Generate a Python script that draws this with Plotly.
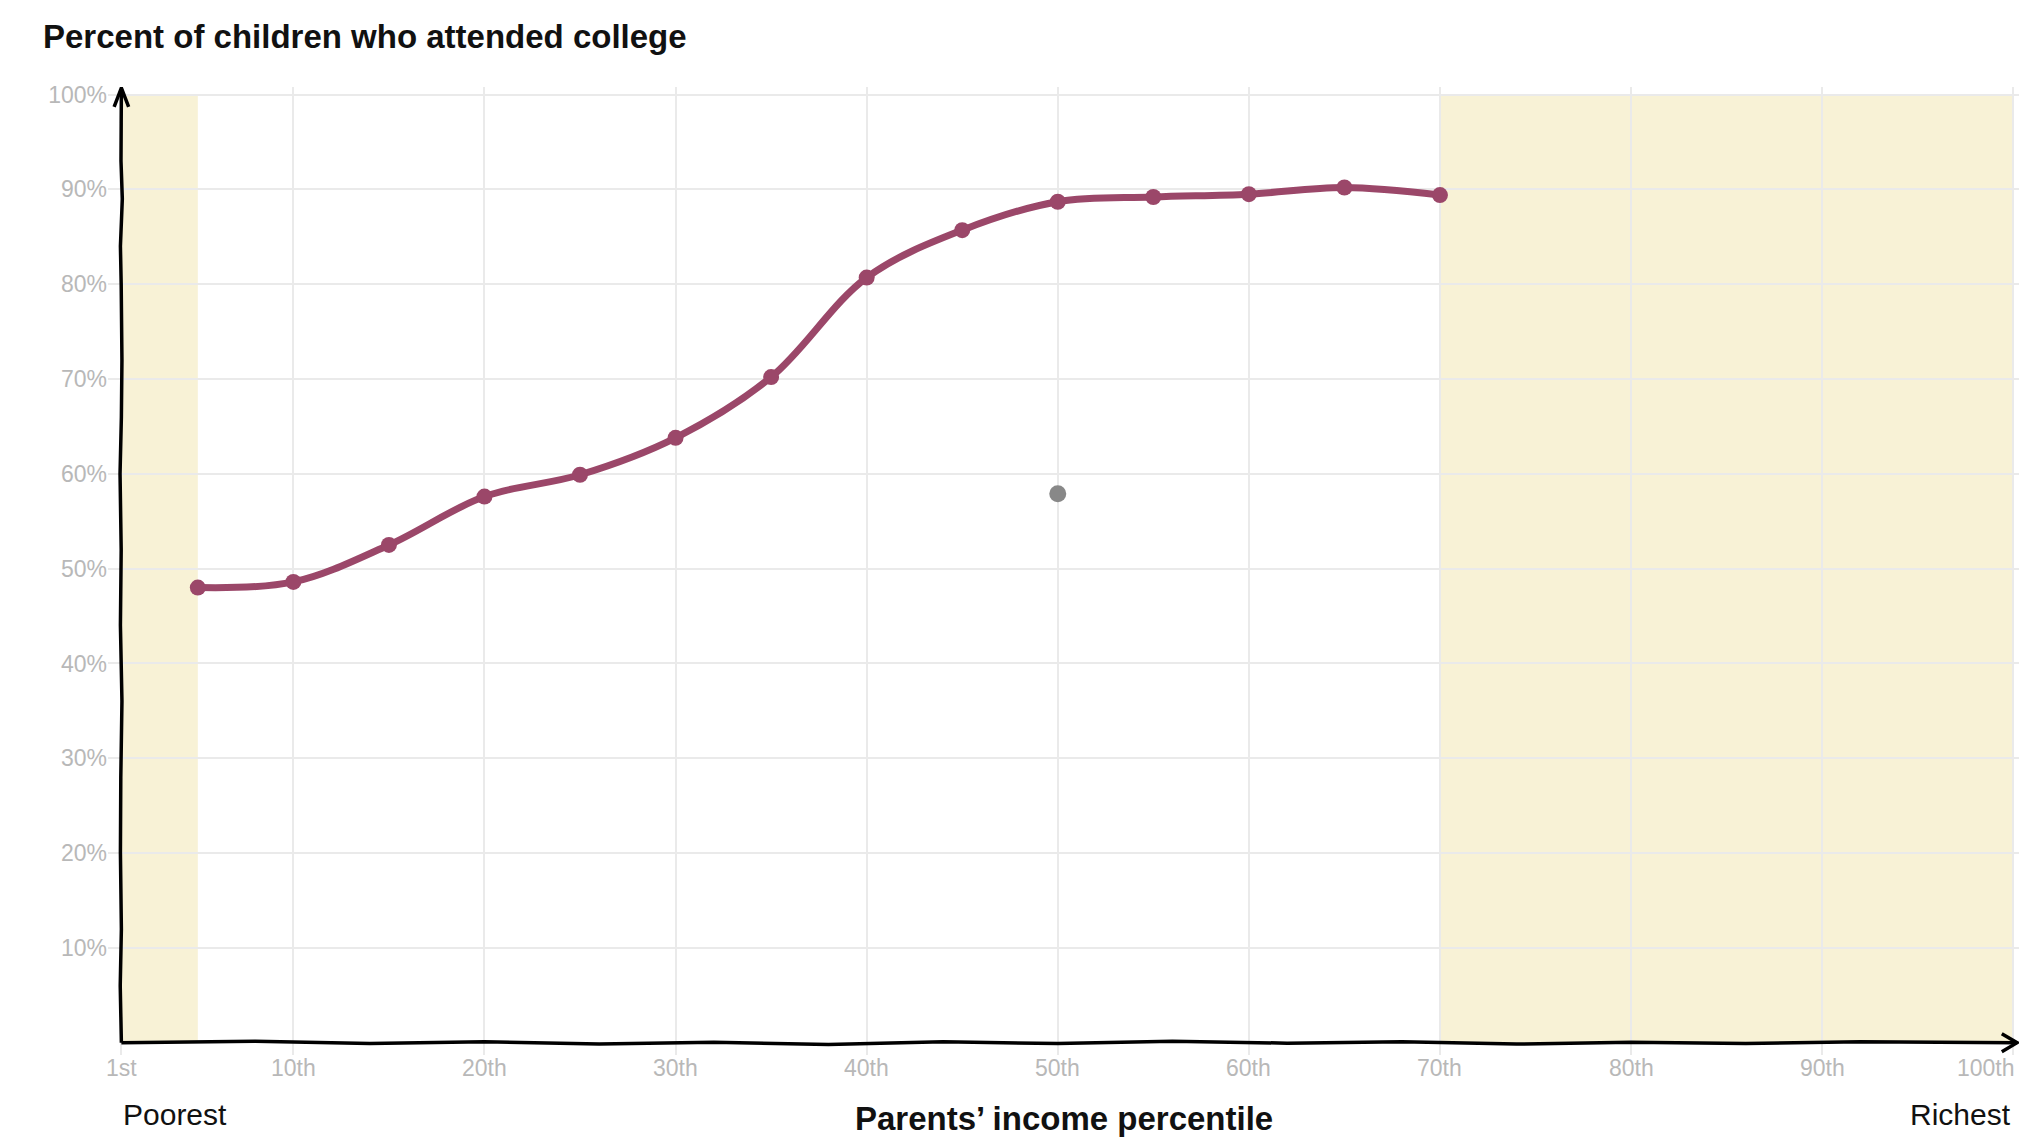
import plotly.graph_objects as go

# ---- data ----
percentiles = [5, 10, 15, 20, 25, 30, 35, 40, 45, 50, 55, 60, 65, 70]
attended = [48.0, 48.6, 52.5, 57.6, 59.9, 63.8, 70.2, 80.7, 85.7, 88.7, 89.2, 89.5, 90.2, 89.4]
guess_x = [50]
guess_y = [57.9]

x_tick_vals = [1, 10, 20, 30, 40, 50, 60, 70, 80, 90, 100]
x_tick_text = ["1st", "10th", "20th", "30th", "40th", "50th", "60th", "70th", "80th", "90th", "100th"]
y_tick_vals = [10, 20, 30, 40, 50, 60, 70, 80, 90, 100]
y_tick_text = ["10%", "20%", "30%", "40%", "50%", "60%", "70%", "80%", "90%", "100%"]
hidden_bands = [(1, 5), (70, 100)]

LINE_COLOR = "#9b4769"
BAND_COLOR = "#f8f2d6"
TICK_COLOR = "#b8b8b8"
GRID_COLOR = "#eaeaea"
NARROW = "Liberation Sans Narrow, Arial Narrow, Liberation Sans, sans-serif"
SANS = "Liberation Sans, Arial, sans-serif"

fig = go.Figure()

fig.add_trace(go.Scatter(
    x=percentiles, y=attended, mode="lines+markers",
    line=dict(color=LINE_COLOR, width=7, shape="spline", smoothing=1.0),
    marker=dict(color=LINE_COLOR, size=16),
    showlegend=False, hoverinfo="skip",
))
fig.add_trace(go.Scatter(
    x=guess_x, y=guess_y, mode="markers",
    marker=dict(color="#888888", size=17),
    showlegend=False, hoverinfo="skip",
))

shapes = []
for x0, x1 in hidden_bands:
    shapes.append(dict(type="rect", xref="x", yref="y", x0=x0, x1=x1, y0=0, y1=100,
                       fillcolor=BAND_COLOR, line=dict(width=0), layer="below"))

# hand-drawn looking axes
y_axis_path = ("M 1,0 L 0.94,6 L 1.0,12 L 0.95,20 L 0.97,28 L 1.03,36 L 0.95,44 "
               "L 0.99,52 L 0.93,60 L 1.0,66 L 1.03,72 L 0.99,80 L 0.95,84 L 1.05,89 "
               "L 0.98,93 L 0.99,97 L 1.0,100.6")
x_axis_path = ("M 1,0 L 8,0.15 L 14,-0.1 L 20,0.1 L 26,-0.15 L 32,0.05 L 38,-0.2 "
               "L 44,0.1 L 50,-0.1 L 56,0.15 L 62,-0.05 L 68,0.1 L 74,-0.15 L 80,0.05 "
               "L 86,-0.1 L 92,0.1 L 100.2,0")
for p in [y_axis_path, x_axis_path,
          "M 0.62,98.7 L 1,100.7 L 1.38,98.7",
          "M 99.4,0.95 L 100.2,0 L 99.4,-0.95"]:
    shapes.append(dict(type="path", xref="x", yref="y", path=p,
                       line=dict(color="black", width=3.5), layer="above"))

annotations = []
for v, t in zip(x_tick_vals, x_tick_text):
    annotations.append(dict(
        x=v, y=0, xref="x", yref="y", text=t, showarrow=False,
        xanchor="right" if v == 100 else "center", yanchor="top", yshift=-10,
        xshift=4 if v == 100 else 0,
        font=dict(family=NARROW, size=23, color=TICK_COLOR),
    ))
annotations.append(dict(x=1, y=0, xref="x", yref="y", text="Poorest", showarrow=False,
                        xanchor="left", yanchor="middle", yshift=-72,
                        font=dict(family=SANS, size=30, color="#111")))
annotations.append(dict(x=100, y=0, xref="x", yref="y", text="Richest", showarrow=False,
                        xanchor="right", yanchor="middle", yshift=-72,
                        font=dict(family=SANS, size=30, color="#111")))
annotations.append(dict(x=0.5, y=0, xref="paper", yref="y", text="<b>Parents’ income percentile</b>",
                        showarrow=False, xanchor="center", yanchor="middle", yshift=-76,
                        font=dict(family=NARROW, size=33, color="#111")))

fig.update_layout(
    width=2025, height=1138,
    margin=dict(l=108, r=6, t=87, b=83),
    plot_bgcolor="white", paper_bgcolor="white",
    title=dict(text="<b>Percent of children who attended college</b>",
               x=43 / 2025, xref="container", xanchor="left",
               y=1 - 36 / 1138, yref="container", yanchor="middle",
               font=dict(family=NARROW, size=33, color="#111")),
    xaxis=dict(range=[0.3, 100.3], tickvals=x_tick_vals, showticklabels=False,
               showgrid=True, gridcolor=GRID_COLOR, gridwidth=1.5,
               zeroline=False, showline=False, ticks=""),
    yaxis=dict(range=[-1.3, 100.8], tickvals=y_tick_vals, ticktext=y_tick_text,
               showgrid=True, gridcolor=GRID_COLOR, gridwidth=1.5,
               zeroline=False, showline=False, ticks="",
               tickfont=dict(family=NARROW, size=23, color=TICK_COLOR)),
    shapes=shapes,
    annotations=annotations,
)

fig.write_html("out.html", config={"displayModeBar": False},
               post_script="document.body.style.margin='0';document.body.style.overflow='hidden';")
